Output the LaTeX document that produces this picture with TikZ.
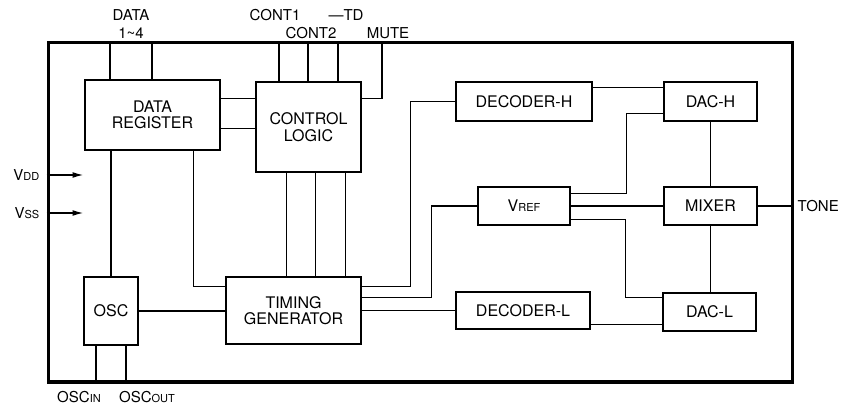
\documentclass[tikz,border=0pt]{standalone}
\usepackage{fontspec}
\setmainfont{TeX Gyre Heros}
\usetikzlibrary{arrows.meta,positioning}
\newcommand{\lowcap}[1]{{\fontsize{11}{11}\selectfont #1}}
\tikzset{
  block/.style={draw,line width=2.6pt,align=center,inner sep=0pt,font=\fontsize{16}{16.5}\selectfont},
  wire/.style={line width=1.5pt},
  pinlabel/.style={inner sep=0pt,font=\fontsize{15}{15}\selectfont},
  supply/.style={wire,-{Latex[length=11pt,width=6pt]}},
}

\begin{document}
\begin{tikzpicture}[x=1pt,y=-1pt]
\useasboundingbox (0,0) rectangle (855,406);
\node[draw,line width=3pt,minimum width=744pt,minimum height=339pt,inner sep=0pt] (chip) at (420,212.5) {};

\node[block,minimum width=135pt,minimum height=70pt] (dreg) at (152.5,115) {DATA\\REGISTER};
\node[block,minimum width=105pt,minimum height=90pt] (ctrl) at (308.5,127) {CONTROL\\LOGIC};
\node[block,minimum width=54pt,minimum height=68pt] (osc) at (111,311) {OSC};
\node[block,minimum width=135pt,minimum height=67pt] (timgen) at (293.5,310.5) {TIMING\\GENERATOR};
\node[block,minimum width=136pt,minimum height=39pt] (dech) at (524,101.5) {DECODER-H};
\node[block,minimum width=93pt,minimum height=39pt] (dach) at (710.5,101.5) {DAC-H};
\node[block,minimum width=92pt,minimum height=38pt] (vref) at (524,206) {V\lowcap{REF}};
\node[block,minimum width=93pt,minimum height=38pt] (mixer) at (710.5,206) {MIXER};
\node[block,minimum width=134pt,minimum height=37pt] (decl) at (523,310.5) {DECODER-L};
\node[block,minimum width=93pt,minimum height=38pt] (dacl) at (709.5,312) {DAC-L};

% pins on the package edge
\foreach \name/\px in {d1/110,d2/152,c1/279,c2/308,td/338,mute/382}
  \coordinate (\name) at (\px,0 |- chip.north);
\coordinate (vdd) at (chip.west |- 0,175);
\coordinate (vss) at (chip.west |- 0,213);
\coordinate (tone) at (mixer.east -| chip.east);
\coordinate (oin) at ([xshift=-15pt]osc.south);
\coordinate (oout) at ([xshift=15pt]osc.south);

\node[pinlabel] (ldata) at (131,15.5) {DATA};
\node[pinlabel] (lnum) at (131,33.5) {1\textasciitilde4};
\node[pinlabel] (lc1) at (275,15.5) {CONT1};
\node[pinlabel] (lc2) at (311,33.5) {CONT2};
\node[pinlabel] (ltd) at (346,15.5) {---TD};
\node[pinlabel] (lmute) at (388,33.5) {MUTE};
\node[pinlabel,left=7pt of vdd] (lvdd) {V\lowcap{DD}};
\node[pinlabel,left=7pt of vss] (lvss) {V\lowcap{SS}};
\node[pinlabel,right=4pt of tone] (ltone) {TONE};
\node[pinlabel] (loin) at (79,397) {OSC\lowcap{IN}};
\node[pinlabel] (loout) at (147,397) {OSC\lowcap{OUT}};

\draw[supply] (vdd) -- ++(37,0);
\draw[supply] (vss) -- ++(37,0);
\foreach \p in {d1,d2} \draw[wire] (\p) -- (\p |- dreg.north);
\foreach \p in {c1,c2,td} \draw[wire] (\p) -- (\p |- ctrl.north);
\draw[wire] (mute) |- ([yshift=-18pt]ctrl.north east);
\foreach \p in {oin,oout} \draw[wire] (\p) -- (\p |- chip.south);
\draw[wire] (mixer.east) -- (tone);

% register and control
\coordinate (r1) at ([yshift=-20pt]dreg.north east);
\coordinate (r2) at ([yshift=-50pt]dreg.north east);
\draw[wire] (r1) -- (r1 -| ctrl.west);
\draw[wire] (r2) -- (r2 -| ctrl.west);
\draw[wire] (osc.north) -- (osc.north |- dreg.south);
\coordinate (r3) at ([xshift=-28pt]dreg.south east);
\coordinate (t1) at ([yshift=-11pt]timgen.north west);
\draw[wire] (r3) |- (t1);
\foreach \dx in {-22,7,37} {
  \coordinate (cb) at ([xshift=\dx pt]ctrl.south);
  \draw[wire] (cb) -- (cb |- timgen.north);
}
\draw[wire] (osc.east) -- (osc.east -| timgen.west);

% timing generator outputs
\coordinate (g1) at ([yshift=-11pt]timgen.north east);
\coordinate (g2) at ([yshift=-22pt]timgen.north east);
\draw[wire] (g1) -| ([xshift=-44pt]dech.west) -- (dech.west);
\draw[wire] (g2) -| ([xshift=-45pt]vref.west) -- (vref.west);
\draw[wire] (timgen.east) -- (decl.west);

% decoders, reference and mixer
\coordinate (h0) at ([yshift=-7pt]dech.north east);
\draw[wire] (h0) -- (h0 -| dach.west);
\coordinate (l0) at ([yshift=6pt]decl.south east);
\draw[wire] (l0) -- (l0 -| dacl.west);
\coordinate (v1) at ([yshift=-8pt]vref.north east);
\coordinate (h1) at ([yshift=9pt]dach.south west);
\draw[wire] (v1) -| ([xshift=-36pt]h1) -- (h1);
\coordinate (v2) at ([yshift=7pt]vref.south east);
\coordinate (l1) at ([yshift=-6pt]dacl.north west);
\draw[wire] (v2) -| ([xshift=-36pt]l1) -- (l1);
\draw[wire] (vref.east) -- (mixer.west);
\draw[wire] (dach.south) -- (mixer.north);
\draw[wire] (mixer.south) -- (mixer.south |- dacl.north);
\end{tikzpicture}
\end{document}
